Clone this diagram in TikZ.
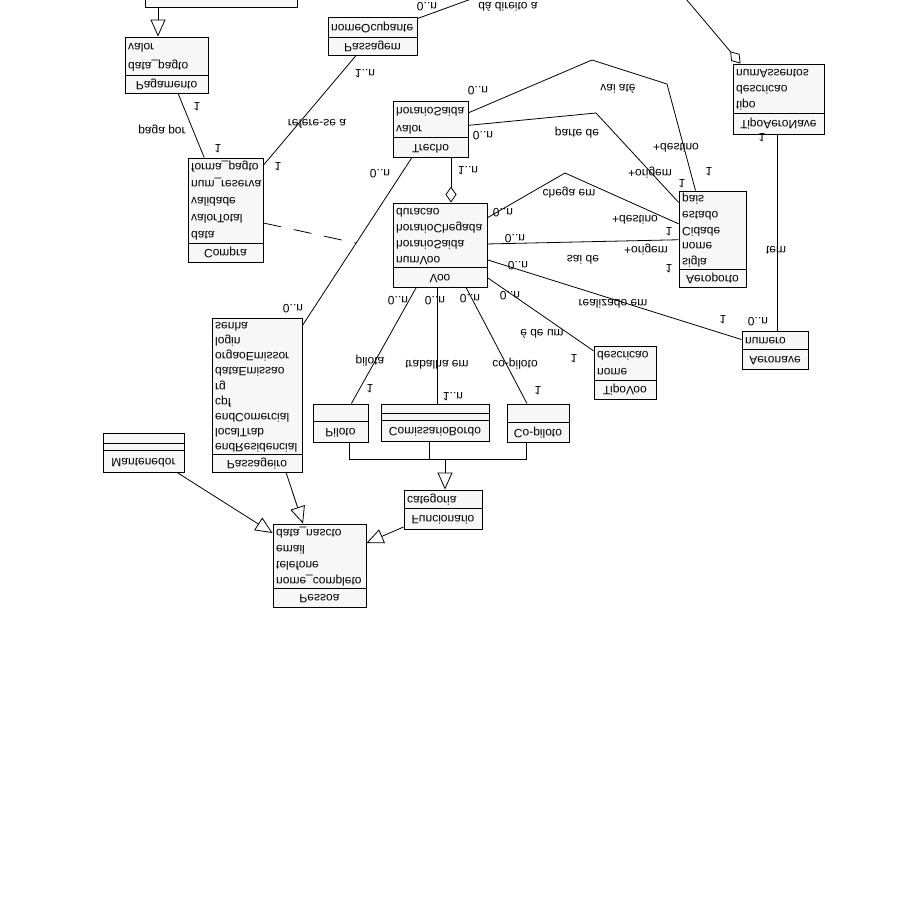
\documentclass[tikz,border=0pt]{standalone}
\usepackage{fontspec}
\setmainfont{Liberation Sans}
\usetikzlibrary{arrows.meta,calc}
\tikzset{
 box/.style={draw, line width=0.9pt, fill=black!3, rectangle, inner sep=0pt},
 txt/.style={transform shape, font=\fontsize{12}{14}\selectfont, inner sep=0pt, text height=8.5pt, text depth=2.5pt},
 lbl/.style={txt},
 conn/.style={line width=0.8pt},
 gen/.style={conn, -{Triangle[open,length=17pt,width=15pt]}},
 agg/.style={conn, -{Diamond[open,length=16pt,width=11pt]}},
 assoc/.style={conn, dash pattern=on 18pt off 13pt},
}
\newcommand\umlclass[9]{%
  \node[box, minimum width={(#4)-(#2)}, minimum height={(#5)-(#3)}] (#1) at ({((#2)+(#4))/2},{((#3)+(#5))/2}) {};
  \draw[line width=0.9pt] (#2,#6) -- (#4,#6);
  \node[txt] at ({((#2)+(#4))/2},{((#6)+(#5))/2}) {#7};
  \pgfmathsetmacro\clpitch{((#6)-(#3))/(#8)}
  \foreach \a [count=\i] in {#9} {\node[txt, anchor=west] at ({(#2)+3},{(#3)+(\i-0.5)*\clpitch}) {\a};}
}
\begin{document}
\begin{tikzpicture}[x=1pt, y=1pt, yscale=-1]
\useasboundingbox[fill=white] (0,0) rectangle (900,900);

% classes
\node[box, minimum width=152, minimum height=47] (topcls) at (221,-16.5) {};
\umlclass{Pagamento}{125}{37}{208}{93}{75}{Pagamento}{2}{valor,data\_pagto}
\umlclass{Passagem}{328}{17}{417}{55}{37}{Passagem}{1}{nomeOcupante}
\umlclass{Compra}{188}{158}{263}{262}{243}{Compra}{5}{forma\_pagto,num\_reserva,validade,valorTotal,data}
\umlclass{Trecho}{393}{101}{468}{157}{137}{Trecho}{2}{horarioSaida,valor}
\umlclass{Voo}{393}{203}{487}{287}{267}{Voo}{4}{duracao,horarioChegada,horarioSaida,numVoo}
\umlclass{Aeroporto}{679}{191}{746}{287}{269}{Aeroporto}{5}{pais,estado,Cidade,nome,sigla}
\umlclass{TipoAeroNave}{733}{64}{824}{134}{113}{TipoAeroNave}{3}{numAssentos,descricao,tipo}
\umlclass{Aeronave}{742}{331}{808}{369}{349}{Aeronave}{1}{numero}
\umlclass{TipoVoo}{594}{346}{656}{399}{380}{TipoVoo}{2}{descricao,nome}
\umlclass{Passageiro}{212}{318}{302}{472}{454}{Passageiro}{9}{senha,login,orgaoEmissor,dataEmissao,rg,cpf,endComercial,localTrab,endResidencial}
\umlclass{Funcionario}{404}{490}{482}{529}{508}{Funcionario}{1}{categoria}
\umlclass{Pessoa}{273}{524}{366}{607}{588}{Pessoa}{4}{data\_nascto,email,telefone,nome\_completo}

\node[box, minimum width=55, minimum height=38] (Piloto) at (340.5,423) {};
\draw[line width=0.9pt] (313,421) -- (368,421);
\node[txt] at (340.5,431.5) {Piloto};
\node[box, minimum width=108, minimum height=37] (ComissarioBordo) at (435,422.5) {};
\draw[line width=0.9pt] (381,413) -- (489,413) (381,420) -- (489,420);
\node[txt] at (435,430.5) {ComissarioBordo};
\node[box, minimum width=62, minimum height=38] (copiloto) at (538,423) {};
\draw[line width=0.9pt] (507,422) -- (569,422);
\node[txt] at (538,432) {Co-piloto};
\node[box, minimum width=81, minimum height=39] (Mantenedor) at (143.5,452.5) {};
\draw[line width=0.9pt] (103,443) -- (184,443) (103,450) -- (184,450);
\node[txt] at (143.5,461) {Mantenedor};

% free ends
\coordinate (pasEnd) at (540,-26);
\coordinate (tanEnd) at (670,-20);
\coordinate (vaiA) at (592,60);
\coordinate (vaiB) at (667,84);
\coordinate (parA) at (596,113);
\coordinate (cheA) at (565,173);
\coordinate (gj) at (445,459);
\coordinate (assocPt) at ($(Passageiro)!0.571!(Trecho)$);

% connectors
\draw[gen] ($(topcls.south)+(-63,0)$) -- ($(Pagamento.north)+(-8.5,0)$);
\draw[conn] (Pagamento) -- (Compra);
\draw[conn] (Passagem) -- (Compra);
\draw[conn] ($(Passagem.north east)+(0,2)$) -- (pasEnd);
\draw[conn] (Passageiro) -- (Trecho);
\draw[assoc] ($(Compra.east)+(0,13)$) -- (assocPt);
\draw[agg] ($(Trecho.south)+(20.5,0)$) -- ($(Voo.north)+(11,0)$);
\draw[conn] (Trecho) -- (vaiA) -- (vaiB) -- ($(Aeroporto.north)+(-17,0)$);
\draw[conn] (Trecho) -- (parA) -- (Aeroporto);
\draw[conn] (Voo) -- (cheA) -- (Aeroporto);
\draw[conn] (Voo) -- (Aeroporto);
\draw[conn] (Voo) -- (Aeronave);
\draw[conn] (Voo) -- (TipoVoo);
\draw[agg] (tanEnd) -- ($(TipoAeroNave.north)+(-38,0)$);
\draw[conn] ($(TipoAeroNave.south)+(-1.5,0)$) -- ($(Aeronave.north)+(2,0)$);
\draw[conn] (Voo) -- (Piloto);
\draw[conn] ($(Voo.south)+(-3,0)$) -- ($(ComissarioBordo.north)+(2,0)$);
\draw[conn] ($(Voo.south)+(26,0)$) -- ($(copiloto.north)+(-11,0)$);
\draw[conn] ($(Piloto.south)+(8.5,0)$) -- ++(0,17) -| ($(copiloto.south)+(-12,0)$);
\draw[conn] ($(ComissarioBordo.south)+(-6,0)$) -- ++(0,18);
\draw[gen] (gj) -- ($(Funcionario.north)+(2,0)$);
\draw[gen] ($(Mantenedor.south)+(33.5,0)$) -- ($(Pessoa.west)+(0,-32.5)$);
\draw[gen] ($(Passageiro.south)+(29,0)$) -- ($(Pessoa.north)+(-16.5,0)$);
\draw[gen] ($(Funcionario.west)+(0,17.5)$) -- ($(Pessoa.east)+(0,-22.5)$);

% labels
\node[lbl] at (162,130) {paga por};
\node[lbl] at (197,105) {1};
\node[lbl] at (218,147) {1};
\node[lbl] at (317,122) {refere-se a};
\node[lbl] at (365,72) {1..n};
\node[lbl] at (278,165) {1};
\node[lbl] at (427,5) {0..n};
\node[lbl] at (508,5) {dá direito a};
\node[lbl] at (380,172) {0..n};
\node[lbl] at (293,307) {0..n};
\node[lbl] at (478,89) {0..n};
\node[lbl] at (483,134) {0..n};
\node[lbl] at (468,169) {1..n};
\node[lbl] at (618,87) {vai até};
\node[lbl] at (676,146) {+destino};
\node[lbl] at (709,170) {1};
\node[lbl] at (577,132) {parte de};
\node[lbl] at (650,172) {+origem};
\node[lbl] at (682,182) {1};
\node[lbl] at (569,192) {chega em};
\node[lbl] at (635,218) {+destino};
\node[lbl] at (669,230) {1};
\node[lbl] at (503,211) {0..n};
\node[lbl] at (515,237) {0..n};
\node[lbl] at (583,258) {sai de};
\node[lbl] at (646,249) {+origem};
\node[lbl] at (669,267) {1};
\node[lbl] at (518,264) {0..n};
\node[lbl] at (613,302) {realizado em};
\node[lbl] at (723,318) {1};
\node[lbl] at (758,320) {0..n};
\node[lbl] at (776,249) {tem};
\node[lbl] at (762,136) {1};
\node[lbl] at (398,299) {0..n};
\node[lbl] at (435,299) {0..n};
\node[lbl] at (470,297) {0..n};
\node[lbl] at (510,294) {0..n};
\node[lbl] at (542,332) {é de um};
\node[lbl] at (574,357) {1};
\node[lbl] at (370,360) {pilota};
\node[lbl] at (370,387) {1};
\node[lbl] at (437,363) {trabalha em};
\node[lbl] at (453,395) {1..n};
\node[lbl] at (515,363) {co-piloto};
\node[lbl] at (538,389) {1};
\end{tikzpicture}
\end{document}
